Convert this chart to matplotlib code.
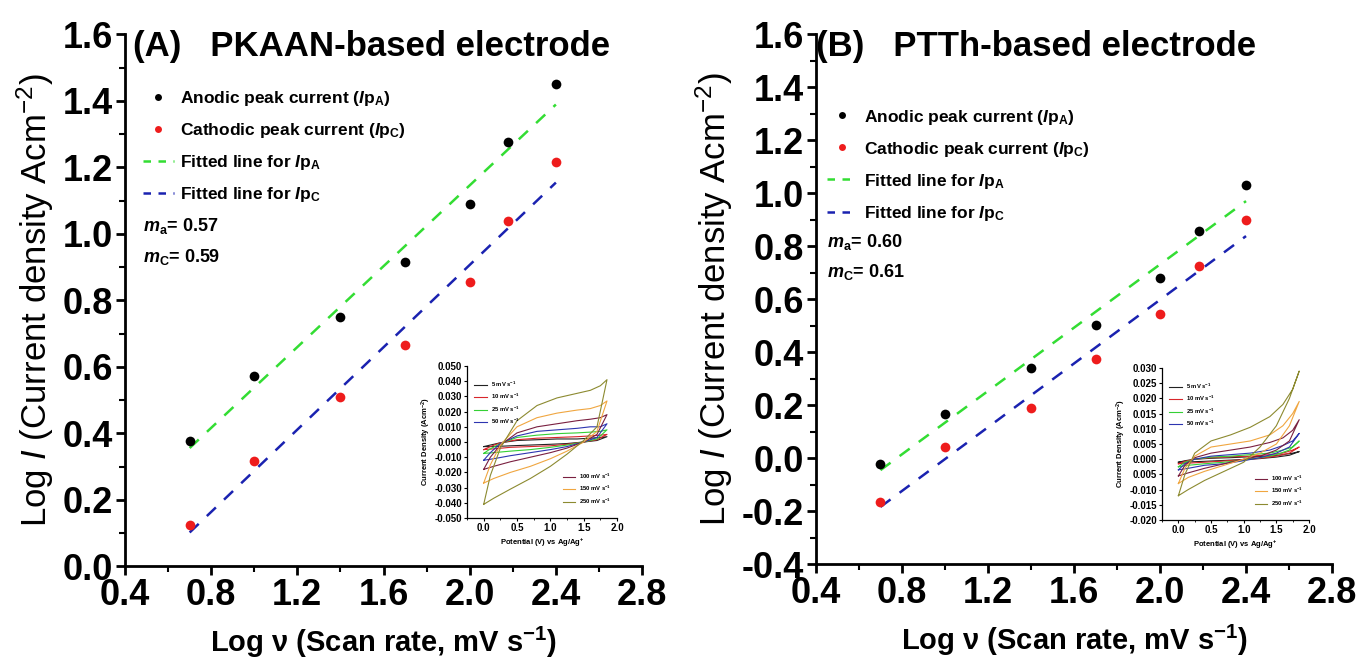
import numpy as np
import matplotlib
matplotlib.use("Agg")
import matplotlib.pyplot as plt
from matplotlib.lines import Line2D
from matplotlib.ticker import MultipleLocator, FormatStrFormatter

plt.rcParams['font.family'] = ['Liberation Sans', 'DejaVu Sans']
plt.rcParams['mathtext.fontset'] = 'custom'
plt.rcParams['mathtext.rm'] = 'Liberation Sans'
plt.rcParams['mathtext.it'] = 'Liberation Sans:italic'
plt.rcParams['mathtext.bf'] = 'Liberation Sans:bold'
plt.rcParams['mathtext.bfit'] = 'Liberation Sans:italic:bold'
plt.rcParams['axes.unicode_minus'] = False

# ----------------------------------------------------------------------
# main panels: log(scan rate) vs log(peak current density)
# ----------------------------------------------------------------------
LOG_SCAN = [0.7, 1.0, 1.4, 1.7, 2.0, 2.18, 2.4]

A_ANODIC = [0.377, 0.572, 0.751, 0.915, 1.090, 1.275, 1.450]
A_CATHODIC = [0.126, 0.317, 0.510, 0.665, 0.855, 1.038, 1.215]
B_ANODIC = [-0.020, 0.166, 0.340, 0.505, 0.680, 0.860, 1.030]
B_CATHODIC = [-0.163, 0.042, 0.190, 0.375, 0.545, 0.727, 0.900]

A_SLOPES = ['0.57', '0.59']
B_SLOPES = ['0.60', '0.61']

# ----------------------------------------------------------------------
# inset CVs: potential grid (forward then reverse sweep), current per rate
# ----------------------------------------------------------------------
CV_POTENTIAL = [0.0, 0.1, 0.25, 0.5, 0.8, 1.1, 1.4, 1.6, 1.75, 1.85,
                1.7, 1.5, 1.25, 1.0, 0.7, 0.4, 0.15, 0.0]
SCAN_LABELS = ['5', '10', '25', '50', '100', '150', '250']
SCAN_COLORS = ['#222222', '#d8262b', '#35d035', '#2d35b0',
               '#7a2040', '#f0a640', '#8c8a30']

CV_A = [
    [-0.003, -0.002, -0.0005, 0.001, 0.0015, 0.002, 0.002, 0.0025, 0.003, 0.0035,
     0.001, 0.0, -0.001, -0.0015, -0.002, -0.0025, -0.003, -0.003],
    [-0.005, -0.003, -0.0005, 0.0015, 0.0025, 0.003, 0.0035, 0.004, 0.0045, 0.005,
     0.0015, 0.0, -0.0015, -0.0025, -0.003, -0.0035, -0.0045, -0.005],
    [-0.0075, -0.0045, -0.001, 0.003, 0.0045, 0.0055, 0.006, 0.0065, 0.007, 0.008,
     0.002, 0.0, -0.002, -0.0035, -0.005, -0.006, -0.007, -0.0075],
    [-0.012, -0.007, -0.001, 0.004, 0.007, 0.008, 0.009, 0.010, 0.010, 0.012,
     0.003, 0.0, -0.003, -0.005, -0.007, -0.009, -0.011, -0.012],
    [-0.018, -0.010, -0.002, 0.006, 0.010, 0.012, 0.014, 0.015, 0.016, 0.018,
     0.005, 0.0, -0.004, -0.007, -0.010, -0.013, -0.016, -0.018],
    [-0.027, -0.015, -0.002, 0.010, 0.016, 0.019, 0.021, 0.022, 0.024, 0.027,
     0.007, 0.0, -0.006, -0.011, -0.016, -0.020, -0.024, -0.027],
    [-0.041, -0.022, -0.004, 0.014, 0.024, 0.029, 0.032, 0.034, 0.037, 0.041,
     0.010, 0.001, -0.008, -0.016, -0.024, -0.031, -0.037, -0.041],
]

CV_B = [
    [-0.001, -0.0005, 0.0, 0.0003, 0.0005, 0.0008, 0.001, 0.0015, 0.002, 0.0025,
     0.0013, 0.0007, 0.0002, -0.0001, -0.0004, -0.0007, -0.0009, -0.001],
    [-0.0015, -0.0007, 0.0, 0.0005, 0.0008, 0.001, 0.0015, 0.002, 0.003, 0.004,
     0.002, 0.001, 0.0003, -0.0002, -0.0006, -0.001, -0.0013, -0.0015],
    [-0.0025, -0.001, 0.0, 0.0007, 0.001, 0.0015, 0.002, 0.003, 0.004, 0.006,
     0.003, 0.0015, 0.0005, -0.0003, -0.001, -0.0015, -0.002, -0.0025],
    [-0.0035, -0.0015, 0.0, 0.001, 0.0015, 0.002, 0.003, 0.0045, 0.006, 0.0085,
     0.004, 0.002, 0.0005, -0.0005, -0.0015, -0.002, -0.003, -0.0035],
    [-0.0055, -0.002, 0.0005, 0.002, 0.003, 0.004, 0.0055, 0.007, 0.0095, 0.013,
     0.006, 0.003, 0.001, 0.0, -0.0015, -0.003, -0.0045, -0.0055],
    [-0.008, -0.003, 0.001, 0.004, 0.005, 0.006, 0.008, 0.011, 0.015, 0.019,
     0.011, 0.005, 0.002, 0.0, -0.002, -0.004, -0.006, -0.008],
    [-0.012, -0.005, 0.002, 0.006, 0.008, 0.0105, 0.014, 0.018, 0.023, 0.029,
     0.020, 0.011, 0.004, -0.001, -0.004, -0.007, -0.010, -0.012],
]

INSET_A_YTICKS = [-0.05, -0.04, -0.03, -0.02, -0.01, 0.0, 0.01, 0.02, 0.03, 0.04, 0.05]
INSET_B_YTICKS = [-0.020, -0.015, -0.010, -0.005, 0.0, 0.005, 0.010, 0.015, 0.020, 0.025, 0.030]
INSET_B_YTICKLABELS = ['-0.020', '-0.015', '-0.010', '0.005', '0.000', '0.005',
                       '0.010', '0.015', '0.020', '0.025', '0.030']


def bold_ticks(ax):
    for lbl in ax.get_xticklabels() + ax.get_yticklabels():
        lbl.set_fontweight('bold')


def main_panel(ax, anodic, cathodic, slopes, title, ylim, leg_xy, m_xy):
    x = np.array(LOG_SCAN)
    pa = np.polyfit(x, anodic, 1)
    pc = np.polyfit(x, cathodic, 1)
    ax.plot(x, np.polyval(pa, x), ls=(0, (5, 4.5)), color='#33dd33', lw=1.8)
    ax.plot(x, np.polyval(pc, x), ls=(0, (5, 4.5)), color='#1a22b0', lw=1.8)
    ax.plot(x, anodic, 'o', color='black', ms=7, mec='none')
    ax.plot(x, cathodic, 'o', color='#ee1c1c', ms=7, mec='none')

    ax.set_xlim(0.4, 2.8)
    ax.set_ylim(*ylim)
    ax.xaxis.set_major_locator(MultipleLocator(0.4))
    ax.xaxis.set_minor_locator(MultipleLocator(0.2))
    ax.yaxis.set_major_locator(MultipleLocator(0.2))
    ax.yaxis.set_minor_locator(MultipleLocator(0.1))
    ax.xaxis.set_major_formatter(FormatStrFormatter('%.1f'))
    ax.yaxis.set_major_formatter(FormatStrFormatter('%.1f'))
    for s in ['top', 'right']:
        ax.spines[s].set_visible(False)
    for s in ['left', 'bottom']:
        ax.spines[s].set_linewidth(2)
    ax.tick_params(which='major', direction='out', length=6.5, width=2,
                   labelsize=26, pad=2)
    ax.tick_params(which='minor', direction='out', length=4, width=1.5)
    bold_ticks(ax)

    ax.set_xlabel(r'Log ν (Scan rate, mV s$^{\mathbf{-1}}$)', fontsize=21,
                  fontweight='bold', labelpad=8)
    ax.set_ylabel(r'Log $\mathit{I}$ (Current density Acm$^{\mathrm{-2}}$)',
                  fontsize=25, labelpad=5)

    ax.text(leg_xy[0] - 0.02, 0.978, title, transform=ax.transAxes,
            fontsize=25, fontweight='bold', va='center', ha='left')

    handles = [
        Line2D([], [], marker='o', ls='none', color='black', ms=5, mec='none'),
        Line2D([], [], marker='o', ls='none', color='#ee1c1c', ms=5, mec='none'),
        Line2D([], [], ls=(0, (3, 3)), color='#33dd33', lw=1.8),
        Line2D([], [], ls=(0, (3, 3)), color='#1a22b0', lw=1.8),
    ]
    labels = [
        r'Anodic peak current ($\mathbfit{I}$p$_{\mathbf{A}}$)',
        r'Cathodic peak current ($\mathbfit{I}$p$_{\mathbf{C}}$)',
        r'Fitted line for $\mathbfit{I}$p$_{\mathbf{A}}$',
        r'Fitted line for $\mathbfit{I}$p$_{\mathbf{C}}$',
    ]
    ax.legend(handles, labels, loc='upper left', bbox_to_anchor=leg_xy,
              frameon=False, prop={'weight': 'bold', 'size': 12.5},
              handlelength=1.75, handletextpad=0.4, labelspacing=0.75,
              borderpad=0, borderaxespad=0)

    ax.text(leg_xy[0], m_xy[0], r'$\mathbfit{m}_{\mathbf{a}}$= ' + slopes[0],
            transform=ax.transAxes, fontsize=13, fontweight='bold', va='center')
    ax.text(leg_xy[0], m_xy[1], r'$\mathbfit{m}_{\mathbf{C}}$= ' + slopes[1],
            transform=ax.transAxes, fontsize=13, fontweight='bold', va='center')


def inset_panel(ax, curves, yticks, yticklabels, ylim):
    for cur, col in zip(curves, SCAN_COLORS):
        ax.plot(CV_POTENTIAL, cur, color=col, lw=0.8)
    ax.set_xlim(-0.25, 2.0)
    ax.set_ylim(*ylim)
    ax.set_xticks([0.0, 0.5, 1.0, 1.5, 2.0])
    ax.xaxis.set_minor_locator(MultipleLocator(0.25))
    ax.set_yticks(yticks)
    ax.yaxis.set_major_formatter(FormatStrFormatter('%.3f'))
    if yticklabels is not None:
        ax.set_yticklabels(yticklabels)
    for s in ['top', 'right']:
        ax.spines[s].set_visible(False)
    for s in ['left', 'bottom']:
        ax.spines[s].set_linewidth(0.9)
    ax.tick_params(which='major', direction='out', length=2.5, width=0.8,
                   labelsize=7, pad=1)
    ax.tick_params(which='minor', direction='out', length=1.5, width=0.6)
    bold_ticks(ax)
    ax.set_xlabel(r'Potential (V) vs Ag/Ag$^{\mathbf{+}}$', fontsize=5.5,
                  fontweight='bold', labelpad=3)
    ax.set_ylabel(r'Current Density (Acm$^{\mathbf{-2}}$)', fontsize=5.5,
                  fontweight='bold', labelpad=1)
    ax.patch.set_alpha(0)

    lines = ax.get_lines()
    labels = [s + r' mV s$^{\mathbf{-1}}$' for s in SCAN_LABELS]
    leg1 = ax.legend(lines[:4], labels[:4], loc='upper left',
                     bbox_to_anchor=(0.03, 0.93), frameon=False,
                     prop={'weight': 'bold', 'size': 4.2}, handlelength=2.2,
                     handletextpad=0.6, labelspacing=0.55, borderpad=0)
    ax.add_artist(leg1)
    ax.legend(lines[4:], labels[4:], loc='lower right',
              bbox_to_anchor=(0.98, 0.06), frameon=False,
              prop={'weight': 'bold', 'size': 4.2}, handlelength=2.2,
              handletextpad=0.6, labelspacing=0.55, borderpad=0)


fig = plt.figure(figsize=(13.62, 6.61), dpi=100)
ax_a = fig.add_axes([0.0918, 0.143, 0.3796, 0.805])
ax_b = fig.add_axes([0.5991, 0.146, 0.3789, 0.802])

main_panel(ax_a, A_ANODIC, A_CATHODIC, A_SLOPES,
           '(A)   PKAAN-based electrode', (0.0, 1.6),
           (0.035, 0.898), (0.639, 0.581))
main_panel(ax_b, B_ANODIC, B_CATHODIC, B_SLOPES,
           '(B)   PTTh-based electrode', (-0.4, 1.6),
           (0.021, 0.862), (0.608, 0.551))

ins_a = fig.add_axes([0.3429, 0.2163, 0.1101, 0.2300])
inset_panel(ins_a, CV_A, INSET_A_YTICKS, None, (-0.05, 0.05))
ins_b = fig.add_axes([0.8532, 0.2133, 0.1079, 0.2300])
inset_panel(ins_b, CV_B, INSET_B_YTICKS, INSET_B_YTICKLABELS, (-0.02, 0.03))

fig.savefig('out.png', dpi=100)
